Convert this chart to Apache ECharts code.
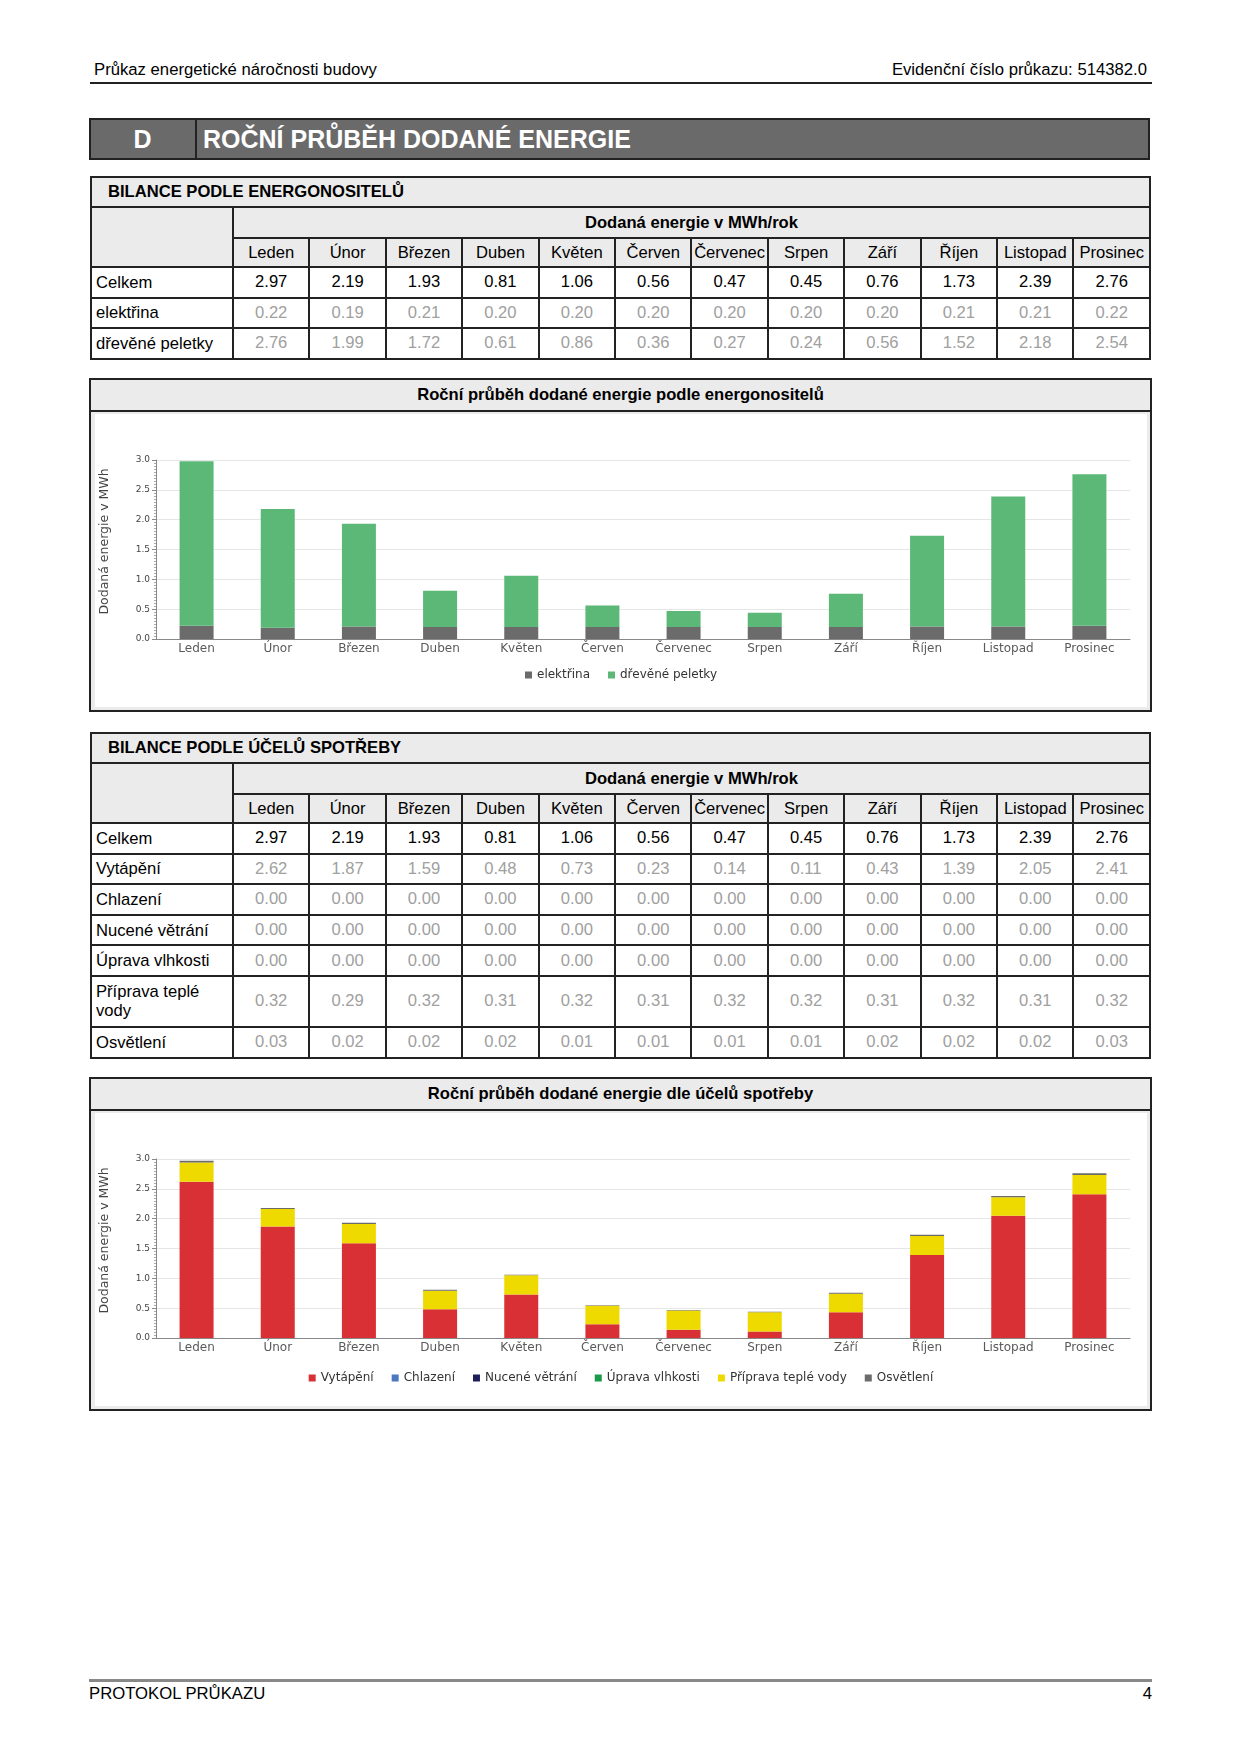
<!DOCTYPE html>
<html><head><meta charset="utf-8">
<script src="https://cdn.jsdelivr.net/npm/echarts@6/dist/echarts.min.js"></script>
<style>
body{margin:0;background:#fff;font-family:"Liberation Sans",Arial,sans-serif;}
#page{position:relative;width:1241px;height:1754px;}
.abs{position:absolute;}
table.t{position:absolute;border-collapse:collapse;table-layout:fixed;font-size:16.6px;line-height:18px;}
table.t td{border:2px solid #222;padding:0;text-align:center;overflow:hidden;white-space:nowrap;}
table.t td.lab{text-align:left;padding-left:4px;white-space:normal;line-height:19px;}
table.t tr.hdr td{background:#ebebeb;}
table.t td.ttl{text-align:left;padding-left:16px;font-weight:bold;font-size:16.6px;background:#ebebeb;}
table.t td.sub{font-weight:bold;}
td.v{color:#a0a0a0;}
td.c{color:#000;}
.panel{position:absolute;border:2px solid #222;box-sizing:border-box;background:#ebebeb;}
.ptitle{position:absolute;left:0;right:0;top:0;height:30px;border-bottom:2px solid #222;text-align:center;font-weight:bold;font-size:16.6px;line-height:30px;background:#ebebeb;}
</style></head>
<body><div id="page">
<div class="abs" style="left:94px;top:60px;font-size:16.7px;">Průkaz energetické náročnosti budovy</div>
<div class="abs" style="right:94px;top:60px;font-size:16.7px;">Evidenční číslo průkazu: 514382.0</div>
<div class="abs" style="left:90px;top:82px;width:1062px;height:2px;background:#222;"></div>

<div class="abs" style="left:89px;top:118px;width:1061px;height:42px;background:#6a6a6a;border:2px solid #222;box-sizing:border-box;"></div>
<div class="abs" style="left:195px;top:118px;width:2px;height:42px;background:#222;"></div>
<div class="abs" style="left:89px;top:118px;width:107px;height:42px;line-height:42px;text-align:center;color:#fff;font-weight:bold;font-size:25px;">D</div>
<div class="abs" style="left:203px;top:118px;height:42px;line-height:42px;color:#fff;font-weight:bold;font-size:25px;">ROČNÍ PRŮBĚH DODANÉ ENERGIE</div>

<table class="t" id="t1" style="left:90px;top:176px;width:1061px;"></table>
<div class="panel" style="left:89px;top:378px;width:1063px;height:334px;">
  <div class="ptitle">Roční průběh dodané energie podle energonositelů</div>
  <div id="c1" style="position:absolute;left:4px;top:34px;width:1052px;height:293px;background:#fff;"></div>
</div>

<table class="t" id="t2" style="left:90px;top:732px;width:1061px;"></table>
<div class="panel" style="left:89px;top:1077px;width:1063px;height:334px;">
  <div class="ptitle">Roční průběh dodané energie dle účelů spotřeby</div>
  <div id="c2" style="position:absolute;left:4px;top:34px;width:1052px;height:293px;background:#fff;"></div>
</div>

<div class="abs" style="left:89px;top:1679px;width:1063px;height:3px;background:#888;"></div>
<div class="abs" style="left:89px;top:1684px;font-size:16.7px;">PROTOKOL PRŮKAZU</div>
<div class="abs" style="right:89px;top:1684px;font-size:16.7px;">4</div>
</div>
<script>
const months = ['Leden','Únor','Březen','Duben','Květen','Červen','Červenec','Srpen','Září','Říjen','Listopad','Prosinec'];
const celkem = [2.97,2.19,1.93,0.81,1.06,0.56,0.47,0.45,0.76,1.73,2.39,2.76];
const elektrina = [0.22,0.19,0.21,0.20,0.20,0.20,0.20,0.20,0.20,0.21,0.21,0.22];
const pelety = [2.76,1.99,1.72,0.61,0.86,0.36,0.27,0.24,0.56,1.52,2.18,2.54];
const vytapeni = [2.62,1.87,1.59,0.48,0.73,0.23,0.14,0.11,0.43,1.39,2.05,2.41];
const chlazeni = [0,0,0,0,0,0,0,0,0,0,0,0];
const nuceneVetrani = [0,0,0,0,0,0,0,0,0,0,0,0];
const upravaVlhkosti = [0,0,0,0,0,0,0,0,0,0,0,0];
const teplaVoda = [0.32,0.29,0.32,0.31,0.32,0.31,0.32,0.32,0.31,0.32,0.31,0.32];
const osvetleni = [0.03,0.02,0.02,0.02,0.01,0.01,0.01,0.01,0.02,0.02,0.02,0.03];
const yTicks = [0,0.5,1.0,1.5,2.0,2.5,3.0];

function buildTable(id, title, rows){
  const t = document.getElementById(id);
  let h = '<colgroup><col style="width:142px">' + months.map(()=>'<col>').join('') + '</colgroup>';
  h += '<tr class="hdr" style="height:30px"><td class="ttl" colspan="13">'+title+'</td></tr>';
  h += '<tr class="hdr" style="height:31px"><td rowspan="2"></td><td class="sub" colspan="12">Dodaná energie v MWh/rok</td></tr>';
  h += '<tr class="hdr" style="height:29px">' + months.map(m=>'<td>'+m+'</td>').join('') + '</tr>';
  rows.forEach(r=>{
    h += '<tr style="height:'+(r[3]||30.6)+'px"><td class="lab">'+r[0]+'</td>' + r[1].map(v=>'<td class="'+(r[2]?'c':'v')+'">'+v.toFixed(2)+'</td>').join('') + '</tr>';
  });
  t.innerHTML = h;
}
buildTable('t1','BILANCE PODLE ENERGONOSITELŮ',[
  ['Celkem',celkem,true],['elektřina',elektrina],['dřevěné peletky',pelety]
]);
buildTable('t2','BILANCE PODLE ÚČELŮ SPOTŘEBY',[
  ['Celkem',celkem,true],['Vytápění',vytapeni],['Chlazení',chlazeni],['Nucené větrání',nuceneVetrani],
  ['Úprava vlhkosti',upravaVlhkosti],['Příprava teplé vody',teplaVoda,false,51],['Osvětlení',osvetleni]
]);

const FONT = 'DejaVu Sans';
function baseOpt(legendBottom){
  return {
    animation:false,
    grid:{left:61,top:46,right:17,bottom:68,containLabel:false,outerBoundsMode:'none'},
    xAxis:{type:'category',data:months,
      axisLine:{lineStyle:{color:'#888',width:1}},axisTick:{show:false},
      axisLabel:{color:'#5a5a5a',fontFamily:FONT,fontSize:12,margin:4,interval:0}},
    yAxis:{type:'value',min:0,max:3,interval:0.5,
      name:'Dodaná energie v MWh',nameLocation:'middle',nameGap:45,
      nameTextStyle:{color:'#444',fontFamily:FONT,fontSize:12.5,padding:[0,0,0,16]},
      axisLine:{show:true,lineStyle:{color:'#888'}},
      axisTick:{show:true,length:4,lineStyle:{color:'#888'}},
      minorTick:{show:true,splitNumber:10,length:2,lineStyle:{color:'#aaa'}},
      splitLine:{lineStyle:{color:'#e6e6e6'}},
      axisLabel:{color:'#444',fontFamily:FONT,fontSize:9,margin:6,formatter:v=>v.toFixed(1)}},
    legend:{bottom:legendBottom,left:'center',icon:'rect',itemWidth:7,itemHeight:7,itemGap:18,
      textStyle:{color:'#333',fontFamily:FONT,fontSize:12}},
    series:[]
  };
}
const o1 = baseOpt(21);
o1.series = [
  {name:'elektřina',type:'bar',stack:'s',data:elektrina,barWidth:34,itemStyle:{color:'#6b6b6b'}},
  {name:'dřevěné peletky',type:'bar',stack:'s',data:pelety,barWidth:34,itemStyle:{color:'#5cb877'}}
];
echarts.init(document.getElementById('c1')).setOption(o1);

const o2 = baseOpt(17);
const s2 = [
  ['Vytápění',vytapeni,'#d93035'],['Chlazení',chlazeni,'#4a78c0'],['Nucené větrání',nuceneVetrani,'#1e1e5a'],
  ['Úprava vlhkosti',upravaVlhkosti,'#1a9a48'],['Příprava teplé vody',teplaVoda,'#efda00'],['Osvětlení',osvetleni,'#6b6b6b']
];
o2.series = s2.map(s=>({name:s[0],type:'bar',stack:'s',data:s[1],barWidth:34,itemStyle:{color:s[2]}}));
echarts.init(document.getElementById('c2')).setOption(o2);
</script>
</body></html>
